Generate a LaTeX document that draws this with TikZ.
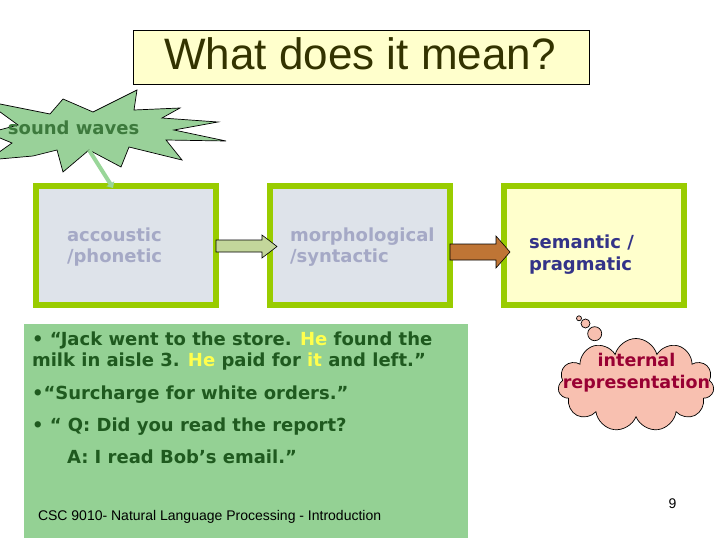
\documentclass[tikz,border=0pt]{standalone}
\usepackage{fontspec}
\setmainfont{DejaVu Sans}
\newfontfamily\arialf{Liberation Sans}
\usetikzlibrary{calc,shapes.symbols,arrows.meta}
\definecolor{titlefill}{HTML}{FFFFCC}
\definecolor{titletext}{HTML}{333300}
\definecolor{burstfill}{HTML}{99D199}
\definecolor{bursttext}{HTML}{3D7A3D}
\definecolor{boxborder}{HTML}{99CC00}
\definecolor{boxgray}{HTML}{DEE3EA}
\definecolor{graytext}{HTML}{A5A9C6}
\definecolor{bluetext}{HTML}{333388}
\definecolor{olivearrow}{HTML}{C3D69B}
\definecolor{brownarrow}{HTML}{BF7535}
\definecolor{panel}{HTML}{94D194}
\definecolor{paneltext}{HTML}{1F5A1F}
\definecolor{hl}{HTML}{FFFF4D}
\definecolor{cloudfill}{HTML}{F8C0B0}
\definecolor{cloudtext}{HTML}{990033}
\definecolor{linkgreen}{HTML}{99D699}
\begin{document}
\begin{tikzpicture}[x=1pt,y=-1pt,
  vfont/.style={font=\bfseries\fontsize{18}{21}\selectfont},
  cfont/.style={font=\bfseries\fontsize{17.5}{21}\selectfont},
  stage/.style={draw=boxborder, line width=6pt, rectangle, minimum width=180pt,
    minimum height=119pt, outer sep=0pt, inner sep=0pt},
  txt/.style={inner sep=0pt, outer sep=0pt, anchor=base west},
  ctxt/.style={inner sep=0pt, outer sep=0pt, anchor=base},
  blockarrow/.style={draw=black, line width=0.6pt, line join=miter}]
\useasboundingbox (0,0) rectangle (720,540);
\fill[white] (0,0) rectangle (720,540);

% title
\node[draw=black, line width=0.8pt, fill=titlefill, minimum width=456pt, minimum height=54pt,
  inner sep=0pt, outer sep=0pt] (title) at (361,57) {};
\node[ctxt, text=titletext, font=\arialf\fontsize{44}{48}\selectfont] (titletxt) at (360,70) {What does it mean?};

% starburst
\draw[fill=burstfill, draw=black, line width=0.7pt, line join=miter]
  (-15,101) -- (50,114) -- (63,99) -- (93,112) -- (137,90) -- (134,110) -- (180,108)
  -- (162,118) -- (218,122) -- (174,130) -- (226,141) -- (166,140) -- (182,160)
  -- (129,147) -- (121,167) -- (89,150) -- (63,172) -- (57,150) -- (33,156) -- (-12,160)
  -- (12,143) -- (-12,133) -- (18,125) -- cycle;
\coordinate (swtail) at (89,150);
\node[txt, text=bursttext, vfont] (swtxt) at (8,135) {sound waves};

% stage boxes
\node[stage, fill=boxgray] (b1) at (126,245.5) {};
\node[stage, fill=boxgray] (b2) at (360,245.5) {};
\node[stage, fill=titlefill] (b3) at (594,245.5) {};
\coordinate (swhead) at (113,188);
\draw[linkgreen, line width=4pt, -{Triangle[length=5pt,width=9pt]}] (swtail) -- (swhead);

\node[txt, text=graytext, vfont] (t1a) at (67,241.7) {accoustic};
\node[txt, text=graytext, vfont] (t1b) at (67,262) {/phonetic};
\node[txt, text=graytext, vfont] (t2a) at (290,241.7) {morphological};
\node[txt, text=graytext, vfont] (t2b) at (290,262) {/syntactic};
\node[txt, text=bluetext, vfont] (t3a) at (529,248.3) {semantic /};
\node[txt, text=bluetext, vfont] (t3b) at (529,270) {pragmatic};

% block arrows
\draw[blockarrow, fill=olivearrow]
  ($(b1.east)+(0,-5.5)$) -- ($(b2.west)+(-8,-5.5)$) -- ($(b2.west)+(-8,-10.5)$)
  -- ($(b2.west)+(7,1)$) -- ($(b2.west)+(-8,12.5)$) -- ($(b2.west)+(-8,6.5)$)
  -- ($(b1.east)+(0,6.5)$) -- cycle;
\draw[blockarrow, fill=brownarrow]
  ($(b2.east)+(0,-1.5)$) -- ($(b3.west)+(-8,-1.5)$) -- ($(b3.west)+(-8,-9.5)$)
  -- ($(b3.west)+(6,6.5)$) -- ($(b3.west)+(-8,22.5)$) -- ($(b3.west)+(-8,14.5)$)
  -- ($(b2.east)+(0,14.5)$) -- cycle;

% example panel
\fill[panel] (24,324) rectangle (468,538);
\node[txt, text=paneltext, vfont] (l1) at (32,345) {• “Jack went to the store. {\color{hl}He} found the};
\node[txt, text=paneltext, vfont] (l2) at (32,366.7) {milk in aisle 3. {\color{hl}He} paid for {\color{hl}it} and left.”};
\node[txt, text=paneltext, vfont] (l3) at (32,399) {•“Surcharge for white orders.”};
\node[txt, text=paneltext, vfont] (l4) at (32,431.7) {• “ Q: Did you read the report?};
\node[txt, text=paneltext, vfont] (l5) at (67,463) {A: I read Bob’s email.”};
\node[txt, text=black, font=\arialf\fontsize{14}{16}\selectfont] (foot) at (38,520) {CSC 9010- Natural Language Processing - Introduction};

% thought cloud
\draw[fill=cloudfill, line width=0.7pt] (579,318.3) circle[radius=2.5pt];
\draw[fill=cloudfill, line width=0.7pt] (585.5,323.5) circle[radius=4.5pt];
\node[cloud, cloud puffs=11, aspect=1.66, draw=black, line width=0.7pt, fill=cloudfill,
  minimum width=156pt, minimum height=93pt, inner sep=0pt] (cl) at (636,385) {};
\draw[fill=cloudfill, line width=0.7pt] (594.7,333.7) circle[radius=7pt];
\node[ctxt, text=cloudtext, cfont] (c1) at (636.5,366.7) {internal};
\node[ctxt, text=cloudtext, cfont] (c2) at (636.5,388.3) {representation};

% page number
\node[ctxt, text=black, font=\arialf\fontsize{14}{16}\selectfont] (pg) at (672.5,508) {9};
\end{tikzpicture}
\end{document}
